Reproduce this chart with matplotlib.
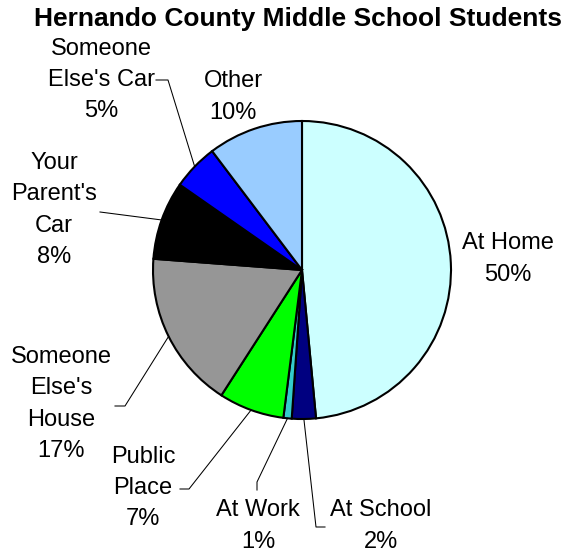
import matplotlib
matplotlib.use("Agg")
import matplotlib.pyplot as plt
import numpy as np

plt.rcParams['font.family'] = ['Liberation Sans', 'DejaVu Sans']

W, H = 565, 554

# slices, clockwise from 12 o'clock (sizes, labels as printed)
categories = ["At Home", "At School", "At Work", "Public Place",
              "Someone Else's House", "Your Parent's Car", "Someone Else's Car", "Other"]
shares = [48.5, 2.6, 0.9, 7.1, 17.1, 8.5, 5.0, 10.3]
pct_labels = ["50%", "2%", "1%", "7%", "17%", "8%", "5%", "10%"]
label_lines = ["At Home", "At School", "At Work", "Public\nPlace",
               "Someone\nElse's\nHouse", "Your\nParent's\nCar", "Someone\nElse's Car", "Other"]
colors = ["#CCFFFF", "#000080", "#33CCCC", "#00FF00",
          "#969696", "#000000", "#0000FF", "#99CCFF"]

# label block centres in pixels (x, y from top)
label_pos = [(508, 259), (381, 526), (258, 526), (143, 488),
             (61, 404), (54, 210), (101, 80), (233, 97)]
# start of leader line at the label side, then knee point (None = no leader)
leader_start = [None, (325, 527), (257, 490), (180, 489),
                (115, 406), (100, 212), (156, 80), None]
leader_knee = [None, (316, 527), (257, 482), (189, 489),
               (125, 406), None, (168, 80), None]

cx, cy, r = 302, 270, 149

fig = plt.figure(figsize=(W / 100, H / 100), dpi=100)
ax = fig.add_axes([0, 0, 1, 1])

wedges, _ = ax.pie(shares, colors=colors, startangle=90, counterclock=False,
                   center=(cx, H - cy), radius=r,
                   wedgeprops=dict(edgecolor='black', linewidth=1.5))
ax.set_xlim(0, W)
ax.set_ylim(0, H)
ax.set_aspect('equal')
ax.axis('off')

ax.text(298, H - 19, "Hernando County Middle School Students",
        ha='center', va='center', fontsize=19, fontweight='bold')

for i, w in enumerate(wedges):
    txt = label_lines[i] + "\n" + pct_labels[i]
    lx, ly = label_pos[i]
    ax.text(lx, H - ly, txt, ha='center', va='center', multialignment='center',
            fontsize=17, linespacing=1.55)
    if leader_start[i] is None:
        continue
    mid = np.deg2rad((w.theta1 + w.theta2) / 2)
    ex, ey = cx + r * np.cos(mid), (H - cy) + r * np.sin(mid)
    pts = [leader_start[i]]
    if leader_knee[i] is not None:
        pts.append(leader_knee[i])
    xs = [p[0] for p in pts] + [ex]
    ys = [H - p[1] for p in pts] + [ey]
    ax.plot(xs, ys, color='black', linewidth=0.75)

fig.savefig("out.png", dpi=100, facecolor='white')
